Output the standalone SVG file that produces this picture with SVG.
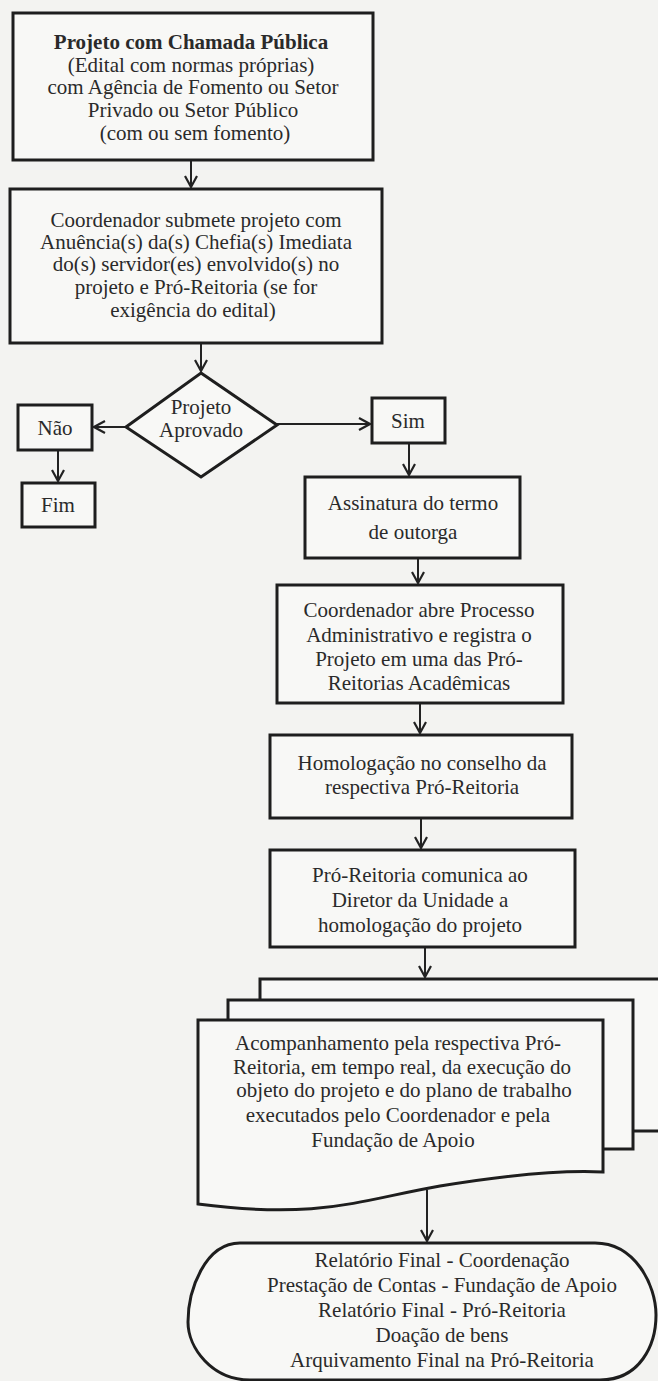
<svg xmlns="http://www.w3.org/2000/svg" width="658" height="1381" viewBox="0 0 658 1381">
<defs>
<style>
.bx{fill:#f8f8f6;stroke:#1e1e1e;stroke-width:3}
.t{font-family:"Liberation Serif","Times New Roman",serif;font-size:21px;fill:#2a2a2a;text-anchor:middle}
.b{font-weight:bold}
.c{fill:none;stroke:#222;stroke-width:2}
</style>
<marker id="ah" viewBox="0 0 14 14" refX="12" refY="7" markerWidth="14" markerHeight="14" orient="auto" markerUnits="userSpaceOnUse">
<path d="M1,1 L12,7 L1,13" fill="none" stroke="#222" stroke-width="2.2"/>
</marker>
</defs>
<rect width="658" height="1381" fill="#f3f3f1"/>

<g id="connectors">
<line class="c" x1="191" y1="160" x2="191" y2="187" marker-end="url(#ah)"/>
<line class="c" x1="201" y1="343" x2="201" y2="371" marker-end="url(#ah)"/>
<line class="c" x1="126" y1="427" x2="94" y2="427" marker-end="url(#ah)"/>
<line class="c" x1="277" y1="424" x2="370" y2="424" marker-end="url(#ah)"/>
<line class="c" x1="58" y1="450" x2="58" y2="481" marker-end="url(#ah)"/>
<line class="c" x1="409" y1="443" x2="409" y2="475" marker-end="url(#ah)"/>
<line class="c" x1="418" y1="558" x2="418" y2="583" marker-end="url(#ah)"/>
<line class="c" x1="420" y1="703" x2="420" y2="733" marker-end="url(#ah)"/>
<line class="c" x1="421" y1="818" x2="421" y2="848" marker-end="url(#ah)"/>
<line class="c" x1="425" y1="947" x2="425" y2="977" marker-end="url(#ah)"/>
<line class="c" x1="427" y1="1190" x2="427" y2="1241" marker-end="url(#ah)"/>
</g>

<g id="n1">
<rect class="bx" x="13" y="13" width="360" height="147"/>
<text class="t b" x="191" y="49">Projeto com Chamada Pública</text>
<text class="t" x="191" y="72">(Edital com  normas próprias)</text>
<text class="t" x="193" y="94">com Agência de Fomento ou Setor</text>
<text class="t" x="193" y="117">Privado ou Setor Público</text>
<text class="t" x="195" y="140">(com ou sem fomento)</text>
</g>

<g id="n2">
<rect class="bx" x="10" y="189" width="372" height="154"/>
<text class="t" x="196" y="227">Coordenador submete projeto com</text>
<text class="t" x="196" y="249">Anuência(s) da(s) Chefia(s)  Imediata</text>
<text class="t" x="196" y="271">do(s) servidor(es) envolvido(s) no</text>
<text class="t" x="196" y="294">projeto e Pró-Reitoria (se for</text>
<text class="t" x="193" y="317">exigência do edital)</text>
</g>

<g id="n3">
<polygon class="bx" points="201,373 277,425 201,477 126,427"/>
<text class="t" x="201" y="414">Projeto</text>
<text class="t" x="201" y="437">Aprovado</text>
</g>

<g id="n4">
<rect class="bx" x="18" y="405" width="74" height="45"/>
<text class="t" x="55" y="435">Não</text>
</g>

<g id="n5">
<rect class="bx" x="22" y="483" width="73" height="44"/>
<text class="t" x="58" y="512">Fim</text>
</g>

<g id="n6">
<rect class="bx" x="372" y="398" width="73" height="45"/>
<text class="t" x="408" y="428">Sim</text>
</g>

<g id="n7">
<rect class="bx" x="305" y="477" width="215" height="81"/>
<text class="t" x="413" y="510">Assinatura do termo</text>
<text class="t" x="413" y="539">de outorga</text>
</g>

<g id="n8">
<rect class="bx" x="277" y="585" width="286" height="118"/>
<text class="t" x="419" y="617">Coordenador abre Processo</text>
<text class="t" x="419" y="642">Administrativo e registra o</text>
<text class="t" x="419" y="666">Projeto em uma das Pró-</text>
<text class="t" x="419" y="690">Reitorias Acadêmicas</text>
</g>

<g id="n9">
<rect class="bx" x="270" y="735" width="302" height="83"/>
<text class="t" x="422" y="770">Homologação no conselho da</text>
<text class="t" x="422" y="794">respectiva Pró-Reitoria</text>
</g>

<g id="n10">
<rect class="bx" x="270" y="850" width="305" height="97"/>
<text class="t" x="420" y="882">Pró-Reitoria comunica ao</text>
<text class="t" x="420" y="907">Diretor da Unidade a</text>
<text class="t" x="420" y="932">homologação do projeto</text>
</g>

<g id="n11">
<path class="bx" d="M260,1000 V979 H662 V1131 H633"/>
<path class="bx" d="M228,1020 V1000 H633 V1149 H603"/>
<path class="bx" d="M198,1020 H603 V1172 C560,1170 500,1176 440,1186 C360,1200 320,1220 198,1204 Z"/>
<text class="t" x="398" y="1050">Acompanhamento pela respectiva Pró-</text>
<text class="t" x="402" y="1074">Reitoria, em tempo real, da execução do</text>
<text class="t" x="404" y="1097">objeto do projeto e do plano de trabalho</text>
<text class="t" x="398" y="1122">executados pelo Coordenador e pela</text>
<text class="t" x="393" y="1147">Fundação de Apoio</text>
</g>

<g id="n12">
<path class="bx" d="M240,1243 H595 C635,1243 656,1285 656,1315 C656,1345 640,1380 600,1380 H250 C212,1380 188,1348 188,1322 C188,1290 205,1243 240,1243 Z"/>
<text class="t" x="442" y="1267">Relatório Final - Coordenação</text>
<text class="t" x="442" y="1292">Prestação de Contas - Fundação de Apoio</text>
<text class="t" x="442" y="1317">Relatório Final - Pró-Reitoria</text>
<text class="t" x="442" y="1342">Doação de bens</text>
<text class="t" x="442" y="1367">Arquivamento Final na Pró-Reitoria</text>
</g>
</svg>
